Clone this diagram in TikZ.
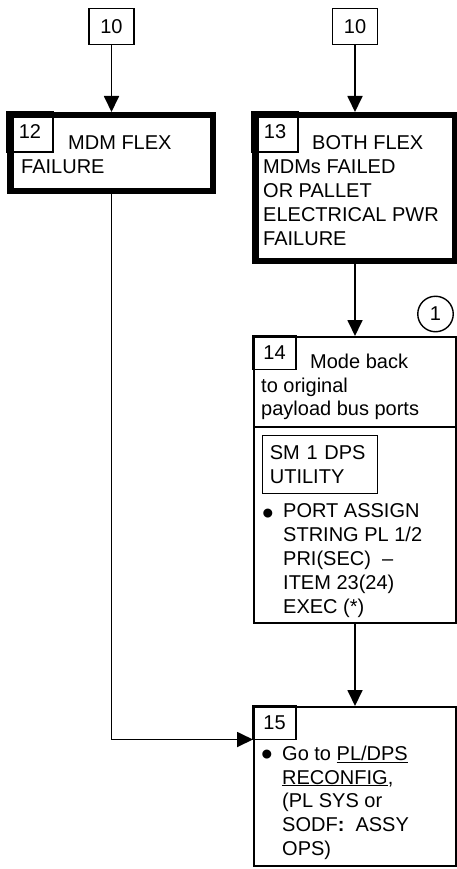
\documentclass[tikz,border=0pt]{standalone}
\usepackage{fontspec}
\usepackage{graphicx}
\setmainfont{Liberation Sans}
\usetikzlibrary{arrows.meta, positioning, calc}
\newcommand{\flowfont}{\fontsize{20pt}{23.8pt}\selectfont}
\newcommand{\bigdot}{\raisebox{-6.8pt}{\scalebox{1.65}{\textbullet}}}
\tikzset{
	box/.style      ={rectangle, draw=black, line width=1.8pt, inner sep=0pt},
	heavybox/.style ={rectangle, draw=black, line width=6.5pt, inner sep=0pt},
	numbox/.style   ={rectangle, draw=black, line width=1.4pt, anchor=north west, minimum width=43pt, minimum height=33.5pt, inner sep=0pt, outer sep=0pt, font=\flowfont},
	refbox/.style   ={rectangle, draw=black, line width=1.4pt, minimum width=45pt, minimum height=36pt, font=\flowfont},
	txt/.style      ={anchor=north west, align=left, inner sep=0pt, font=\flowfont},
	dotmark/.style  ={anchor=base west, inner sep=0pt, font=\flowfont},
	flowarrow/.style={-{Triangle[length=16pt, width=15pt]}, line width=1.8pt},
}
\begin{document}
\begin{tikzpicture}[x=1pt, y=-1pt]
	\useasboundingbox (0,0) rectangle (457,869);
	% blocks
	\node[heavybox, minimum width=202.5pt, minimum height=75.5pt] (b12) at (111.5,153) {};
	\node[heavybox, minimum width=199.5pt, minimum height=145.5pt] (b13) at (355,188) {};
	\node[box, minimum width=202.2pt, minimum height=286.2pt] (b14) at (355,480) {};
	\node[box, minimum width=202.2pt, minimum height=159.2pt] (b15) at (355,786.5) {};
	\node[refbox, above=67pt of b12] (in12) {10};
	\node[refbox, above=67pt of b13] (in13) {10};
	% step numbers
	\node[numbox, minimum width=46pt, minimum height=40pt] (n12) at (b12.north west) {12};
	\node[numbox, minimum width=46pt, minimum height=40pt] (n13) at (b13.north west) {13};
	\node[numbox, text depth=-3pt] (n14) at (b14.north west) {14};
	\node[numbox] (n15) at (b15.north west) {15};
	\node[circle, draw=black, line width=1.4pt, minimum size=35.5pt, inner sep=0pt, font=\flowfont] (c1) at (435.5,314) {1};
	% texts
	\node[txt] (t12) at (21,135.7) {\hspace*{47pt}MDM FLEX\\FAILURE};
	\node[txt] (t13) at (263,135.7) {\hspace*{49pt}BOTH FLEX\\MDMs FAILED\\OR PALLET\\ELECTRICAL PWR\\FAILURE};
	\node[txt] (t14) at (261,353.7) {\hspace*{49pt}Mode back\\to original\\payload bus ports};
	\draw[line width=1.8pt] (b14.west |- 0,427) -- (b14.east |- 0,427);
	\node[rectangle, draw=black, line width=1.4pt, anchor=north west, text width=100pt, inner xsep=7.5pt, inner ysep=0pt, minimum height=58pt, align=left, font=\flowfont] (sm14) at (261.7,434.7) {SM 1 DPS\\UTILITY};
	\node[dotmark] (dot14) at (262,518) {\bigdot};
	\node[txt] (port14) at (283,503.7) {PORT ASSIGN\\STRING PL 1/2\\PRI(SEC)\ \ \textendash\\ITEM 23(24)\\EXEC (*)};
	\node[dotmark] (dot15) at (261,759) {\bigdot};
	\node[txt] (t15) at (282,745.5) {Go to \underline{PL/DPS}\\\underline{RECONFIG},\\(PL SYS or\\SODF\textbf{:}\ \ ASSY\\OPS)};
	% connectors
	\draw[flowarrow] (in12) -- (b12); \draw[flowarrow] (in13) -- (b13);
	\draw[flowarrow] (b13) -- (b14); \draw[flowarrow] (b14) -- (b15);
	\draw[flowarrow] (b12.south) |- (n15.south west);
\end{tikzpicture}
\end{document}
